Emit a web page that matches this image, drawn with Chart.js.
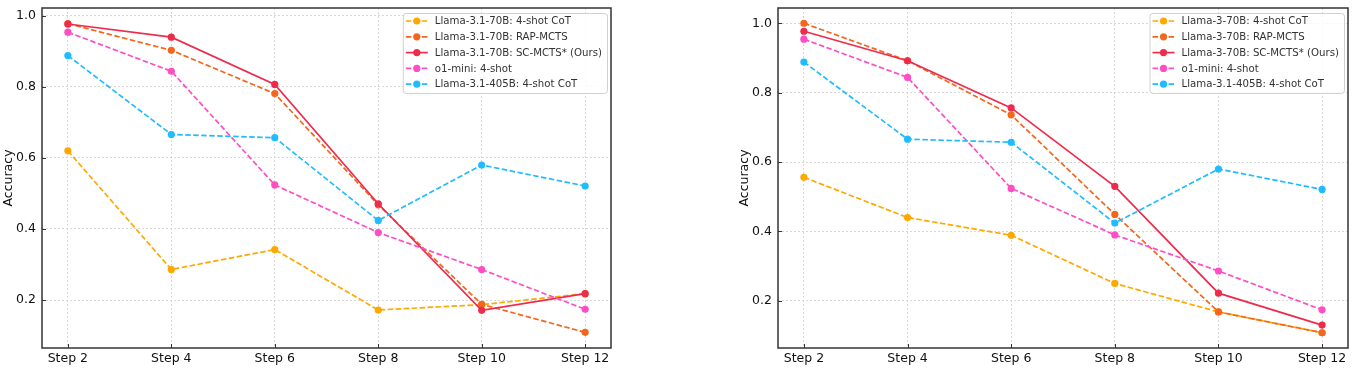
<!DOCTYPE html>
<html>
<head>
<meta charset="utf-8">
<script src="https://cdn.jsdelivr.net/npm/chart.js@4/dist/chart.umd.min.js"></script>
<style>
  body { margin: 0; background: #fff; }
  #wrap { position: relative; width: 1358px; height: 373px; }
  canvas { position: absolute; top: 0; }
</style>
</head>
<body>
<div id="wrap">
  <canvas id="left" width="620" height="373" style="left:0px"></canvas>
  <canvas id="right" width="622" height="373" style="left:736px"></canvas>
</div>
<script>
// data
const steps = [2, 4, 6, 8, 10, 12];
const yTicks = [0.2, 0.4, 0.6, 0.8, 1.0];

// left panel (Llama-3.1-70B)
const cot31 = [0.620, 0.286, 0.342, 0.172, 0.187, 0.218];
const rap31 = [0.978, 0.903, 0.781, 0.468, 0.188, 0.109];
const sc31  = [0.977, 0.940, 0.807, 0.471, 0.171, 0.218];
// right panel (Llama-3-70B)
const cot3 = [0.556, 0.440, 0.389, 0.250, 0.168, 0.108];
const rap3 = [1.000, 0.892, 0.736, 0.449, 0.168, 0.108];
const sc3  = [0.977, 0.892, 0.756, 0.530, 0.222, 0.130];
// shared baselines
const o1mini  = [0.954, 0.844, 0.524, 0.390, 0.286, 0.174];
const cot405b = [0.888, 0.666, 0.657, 0.424, 0.580, 0.521];

const colors = ['#FFA800', '#F4661E', '#EF2B4C', '#FF4EC4', '#20BCFF'];
const dashed = [5.5, 2.5];

function mkSets(names, series) {
  return series.map(function(vals, i) {
    return {
      label: names[i],
      data: steps.map(function(s, j) { return { x: s, y: vals[j] }; }),
      borderColor: colors[i],
      backgroundColor: colors[i],
      pointBackgroundColor: colors[i],
      pointBorderWidth: 0,
      pointRadius: 3.6,
      borderWidth: 1.7,
      borderDash: i === 2 ? [] : dashed,
      tension: 0,
      order: series.length - i
    };
  });
}

// axes box + inward ticks, like matplotlib
const framePlugin = {
  id: 'frame',
  afterDraw(chart) {
    const ctx = chart.ctx, a = chart.chartArea;
    ctx.save();
    ctx.strokeStyle = '#333';
    ctx.lineWidth = 1;
    ctx.beginPath();
    chart.scales.x.ticks.forEach(function(t) {
      const px = Math.round(chart.scales.x.getPixelForValue(t.value)) + 0.5;
      ctx.moveTo(px, a.bottom); ctx.lineTo(px, a.bottom - 4);
    });
    chart.scales.y.ticks.forEach(function(t) {
      const py = Math.round(chart.scales.y.getPixelForValue(t.value)) + 0.5;
      ctx.moveTo(a.left, py); ctx.lineTo(a.left + 4, py);
    });
    ctx.stroke();
    ctx.lineWidth = 1.5;
    ctx.strokeRect(a.left, a.top, a.right - a.left, a.bottom - a.top);
    ctx.restore();
  }
};

// legend with line + marker sample
const legendPlugin = {
  id: 'boxLegend',
  afterDraw(chart) {
    const ctx = chart.ctx, a = chart.chartArea;
    const sets = chart.data.datasets;
    ctx.save();
    ctx.font = '10.2px "DejaVu Sans"';
    let tw = 0;
    sets.forEach(function(d) { tw = Math.max(tw, ctx.measureText(d.label).width); });
    const w = tw + 37, h = 80;
    const x0 = a.right - 4 - w, y0 = a.top + 5;
    ctx.fillStyle = 'rgba(255,255,255,0.85)';
    ctx.strokeStyle = '#d0d0d0';
    ctx.lineWidth = 1;
    ctx.beginPath();
    ctx.roundRect(x0 + 0.5, y0 + 0.5, w, h, 3);
    ctx.fill();
    ctx.stroke();
    sets.forEach(function(d, i) {
      const cy = y0 + 8 + i * 15.8;
      ctx.strokeStyle = d.borderColor;
      ctx.lineWidth = 1.7;
      ctx.setLineDash(d.borderDash);
      ctx.beginPath();
      ctx.moveTo(x0 + 3, cy); ctx.lineTo(x0 + 25, cy);
      ctx.stroke();
      ctx.setLineDash([]);
      ctx.fillStyle = d.borderColor;
      ctx.beginPath();
      ctx.arc(x0 + 14, cy, 3.6, 0, Math.PI * 2);
      ctx.fill();
      ctx.fillStyle = '#333';
      ctx.textBaseline = 'middle';
      ctx.fillText(d.label, x0 + 32, cy + 0.5);
    });
    ctx.restore();
  }
};

function drawPanel(id, names, series, ymin, ymax, rightPad) {
  const ctx = document.getElementById(id).getContext('2d');
  return new Chart(ctx, {
    type: 'line',
    data: { datasets: mkSets(names, series) },
    options: {
      responsive: false,
      animation: false,
      layout: { padding: { top: 8, right: rightPad, left: 0, bottom: 0 } },
      plugins: { legend: { display: false }, tooltip: { enabled: false } },
      scales: {
        x: {
          type: 'linear',
          min: 1.5,
          max: 12.5,
          afterBuildTicks: function(s) { s.ticks = steps.map(function(v) { return { value: v }; }); },
          afterFit: function(s) { s.height = 25; s.paddingLeft = 0; s.paddingRight = 0; },
          grid: { color: '#cfcfcf', lineWidth: 0.8, drawTicks: false },
          border: { display: false, dash: [2, 2] },
          ticks: {
            autoSkip: false, maxRotation: 0, padding: 3,
            color: '#111', font: { family: 'DejaVu Sans', size: 12.5 },
            callback: function(v) { return 'Step ' + v; }
          }
        },
        y: {
          min: ymin,
          max: ymax,
          afterBuildTicks: function(s) { s.ticks = yTicks.map(function(v) { return { value: v }; }); },
          afterFit: function(s) { s.width = 42; s.paddingTop = 0; s.paddingBottom = 0; },
          grid: { color: '#cfcfcf', lineWidth: 0.8, drawTicks: false },
          border: { display: false, dash: [2, 2] },
          title: {
            display: true, text: 'Accuracy', padding: 1,
            color: '#111', font: { family: 'DejaVu Sans', size: 12.5 }
          },
          ticks: {
            padding: 6, color: '#111', font: { family: 'DejaVu Sans', size: 12.5 },
            callback: function(v) { return v.toFixed(1); }
          }
        }
      }
    },
    plugins: [framePlugin, legendPlugin]
  });
}

drawPanel('left',
  ['Llama-3.1-70B: 4-shot CoT', 'Llama-3.1-70B: RAP-MCTS', 'Llama-3.1-70B: SC-MCTS* (Ours)', 'o1-mini: 4-shot', 'Llama-3.1-405B: 4-shot CoT'],
  [cot31, rap31, sc31, o1mini, cot405b], 0.065, 1.022, 9);

drawPanel('right',
  ['Llama-3-70B: 4-shot CoT', 'Llama-3-70B: RAP-MCTS', 'Llama-3-70B: SC-MCTS* (Ours)', 'o1-mini: 4-shot', 'Llama-3.1-405B: 4-shot CoT'],
  [cot3, rap3, sc3, o1mini, cot405b], 0.064, 1.044, 10);
</script>
</body>
</html>
